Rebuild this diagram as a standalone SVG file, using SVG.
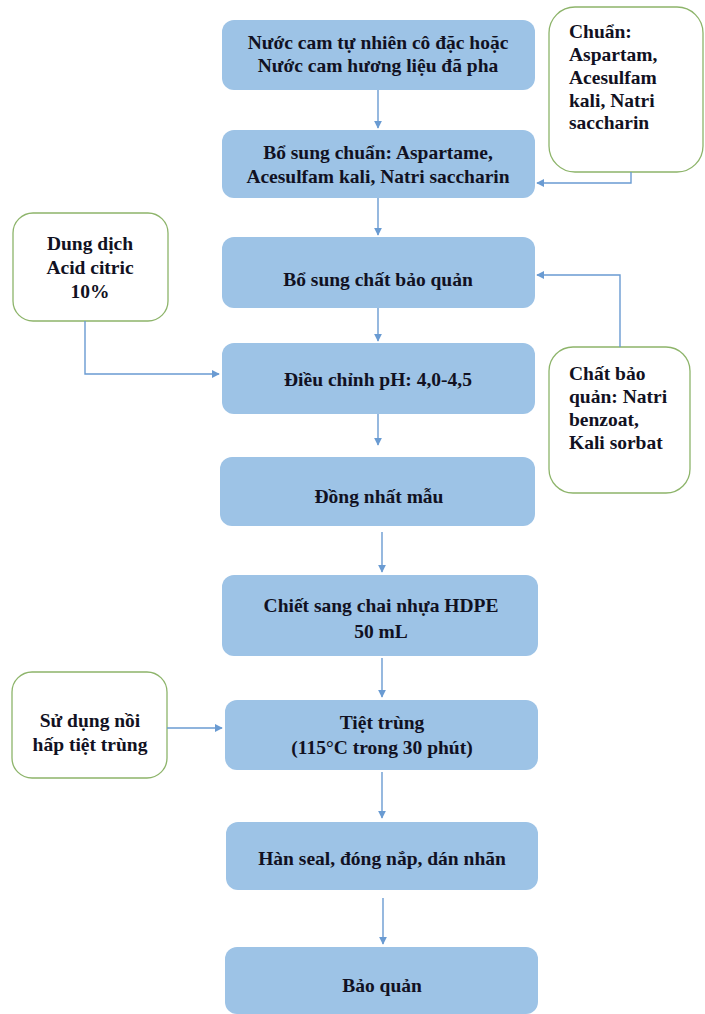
<svg xmlns="http://www.w3.org/2000/svg" width="705" height="1014" viewBox="0 0 705 1014">
<style>
.step{fill:#9DC3E6;}
.side{fill:#FFFFFF;stroke:#8DB46A;stroke-width:1.3;}
.c{text-anchor:middle;}
.conn{fill:none;stroke:#6A9BD2;stroke-width:1.4;}
</style>
<defs>
<marker id="ah" viewBox="0 0 10 10" refX="9" refY="5" markerWidth="8" markerHeight="8" markerUnits="userSpaceOnUse" orient="auto">
<path d="M0,0 L10,5 L0,10 Z" fill="#6A9BD2"/>
</marker>
</defs>
<rect width="705" height="1014" fill="#FFFFFF"/>
<g font-family="Liberation Serif, Times New Roman, serif" font-weight="bold" font-size="19.5" fill="#111122">

<g id="n1"><rect class="step" x="222" y="20" width="313" height="70" rx="12"/>
<text class="c" x="378" y="49">Nước cam tự nhiên cô đặc hoặc</text>
<text class="c" x="378" y="72">Nước cam hương liệu đã pha</text></g>

<g id="n2"><rect class="step" x="222" y="130" width="313" height="68" rx="12"/>
<text class="c" x="378" y="159">Bổ sung chuẩn: Aspartame,</text>
<text class="c" x="378" y="183">Acesulfam kali, Natri saccharin</text></g>

<g id="s1"><rect class="side" x="549" y="7" width="154" height="165" rx="26"/>
<text x="569" y="38">Chuẩn:</text>
<text x="569" y="61">Aspartam,</text>
<text x="569" y="84">Acesulfam</text>
<text x="569" y="107">kali, Natri</text>
<text x="569" y="129">saccharin</text></g>

<g id="n3"><rect class="step" x="222" y="237" width="313" height="71" rx="12"/>
<text class="c" x="378" y="286">Bổ sung chất bảo quản</text></g>

<g id="s2"><rect class="side" x="13" y="213" width="155" height="108" rx="20"/>
<text class="c" x="90" y="250">Dung dịch</text>
<text class="c" x="90" y="274">Acid citric</text>
<text class="c" x="90" y="298">10%</text></g>

<g id="n4"><rect class="step" x="222" y="343" width="313" height="71" rx="12"/>
<text class="c" x="378" y="386">Điều chỉnh pH: 4,0-4,5</text></g>

<g id="s3"><rect class="side" x="549" y="347" width="141" height="146" rx="24"/>
<text x="569" y="380">Chất bảo</text>
<text x="569" y="403">quản: Natri</text>
<text x="569" y="426">benzoat,</text>
<text x="569" y="449">Kali sorbat</text></g>

<g id="n5"><rect class="step" x="220" y="457" width="315" height="69" rx="12"/>
<text class="c" x="379" y="503">Đồng nhất mẫu</text></g>

<g id="n6"><rect class="step" x="222" y="575" width="316" height="81" rx="12"/>
<text class="c" x="381" y="612">Chiết sang chai nhựa HDPE</text>
<text class="c" x="381" y="638">50 mL</text></g>

<g id="s4"><rect class="side" x="12" y="672" width="155" height="106" rx="20"/>
<text class="c" x="90" y="727">Sử dụng nồi</text>
<text class="c" x="90" y="751">hấp tiệt trùng</text></g>

<g id="n7"><rect class="step" x="225" y="700" width="313" height="70" rx="12"/>
<text class="c" x="382" y="729">Tiệt trùng</text>
<text class="c" x="382" y="754">(115°C trong 30 phút)</text></g>

<g id="n8"><rect class="step" x="226" y="822" width="312" height="68" rx="12"/>
<text class="c" x="382" y="865">Hàn seal, đóng nắp, dán nhãn</text></g>

<g id="n9"><rect class="step" x="225" y="947" width="313" height="67" rx="12"/>
<text class="c" x="382" y="992">Bảo quản</text></g>
</g>

<g id="connectors">
<path class="conn" d="M378,90 V128" marker-end="url(#ah)"/>
<path class="conn" d="M631,172 V183 H537" marker-end="url(#ah)"/>
<path class="conn" d="M378,198 V235" marker-end="url(#ah)"/>
<path class="conn" d="M378,308 V341" marker-end="url(#ah)"/>
<path class="conn" d="M85,321 V374 H219" marker-end="url(#ah)"/>
<path class="conn" d="M620,347 V275 H537" marker-end="url(#ah)"/>
<path class="conn" d="M378,414 V445" marker-end="url(#ah)"/>
<path class="conn" d="M382,532 V572" marker-end="url(#ah)"/>
<path class="conn" d="M382,658 V697" marker-end="url(#ah)"/>
<path class="conn" d="M167,728 H222" marker-end="url(#ah)"/>
<path class="conn" d="M382,772 V818" marker-end="url(#ah)"/>
<path class="conn" d="M383,898 V944" marker-end="url(#ah)"/>
</g>
</svg>
